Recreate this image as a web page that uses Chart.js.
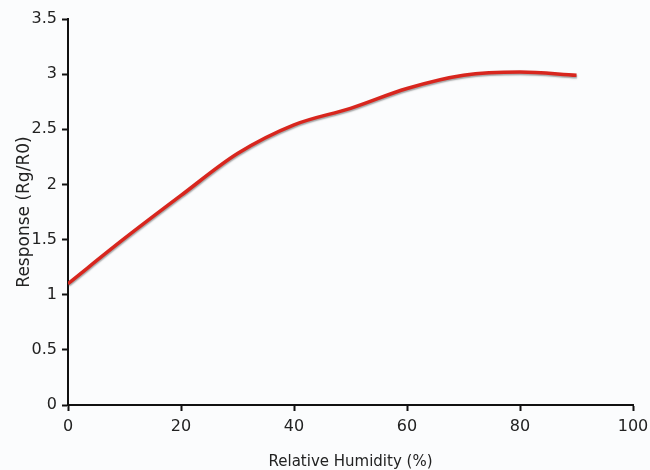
<!DOCTYPE html>
<html>
<head>
<meta charset="utf-8">
<script src="https://cdn.jsdelivr.net/npm/chart.js@4/dist/chart.umd.min.js"></script>
<style>
  html, body { margin: 0; padding: 0; background: #fbfcfd; }
  #wrap { width: 650px; height: 470px; }
</style>
</head>
<body>
<div id="wrap"><canvas id="humidityChart" width="650" height="470"></canvas></div>
<script>
// Sensor response vs relative humidity
const humidity = [0, 10, 20, 30, 40, 50, 60, 70, 80, 90];
const response = [1.10, 1.51, 1.90, 2.28, 2.54, 2.69, 2.87, 2.99, 3.02, 2.99];
const xTicks = [0, 20, 40, 60, 80, 100];
const yTicks = [0, 0.5, 1, 1.5, 2, 2.5, 3, 3.5];

const points = humidity.map((h, i) => ({ x: h, y: response[i] }));

// soft grey drop shadow under the line
const lineShadow = {
    id: 'lineShadow',
    beforeDatasetsDraw(chart) {
        const ctx = chart.ctx;
        ctx.save();
        ctx.shadowColor = 'rgba(90, 90, 90, 0.55)';
        ctx.shadowBlur = 1.5;
        ctx.shadowOffsetX = 0.5;
        ctx.shadowOffsetY = 1.5;
    },
    afterDatasetsDraw(chart) {
        chart.ctx.restore();
    }
};

const bgFill = {
    id: 'bgFill',
    beforeDraw(chart) {
        const ctx = chart.ctx;
        ctx.save();
        ctx.fillStyle = '#fbfcfd';
        ctx.fillRect(0, 0, chart.width, chart.height);
        ctx.restore();
    }
};

const tickFont = { family: 'DejaVu Sans', size: 16 };

new Chart(document.getElementById('humidityChart'), {
    type: 'line',
    data: {
        datasets: [{
            data: points,
            borderColor: '#d8261e',
            borderWidth: 3.5,
            pointRadius: 0,
            cubicInterpolationMode: 'monotone',
            fill: false
        }]
    },
    options: {
        responsive: false,
        animation: false,
        layout: { padding: { left: 14, right: 12, top: 19, bottom: 0 } },
        plugins: {
            legend: { display: false },
            tooltip: { enabled: false }
        },
        scales: {
            x: {
                type: 'linear',
                min: 0,
                max: 100,
                afterBuildTicks: axis => { axis.ticks = xTicks.map(v => ({ value: v })); },
                afterFit: s => { s.height = 65; s.paddingRight = 17; },
                grid: {
                    drawOnChartArea: false,
                    drawTicks: true,
                    tickLength: 6,
                    tickWidth: 2,
                    color: '#111'
                },
                border: { color: '#111', width: 2 },
                ticks: { color: '#222', font: tickFont, padding: 6, maxRotation: 0 },
                title: {
                    display: true,
                    text: 'Relative Humidity (%)',
                    color: '#222',
                    font: { family: 'DejaVu Sans', size: 15, lineHeight: 1 },
                    padding: { top: 8, bottom: 0 }
                }
            },
            y: {
                min: 0,
                max: 3.5,
                afterBuildTicks: axis => { axis.ticks = yTicks.map(v => ({ value: v })); },
                afterFit: s => { s.width = 54; },
                grid: {
                    drawOnChartArea: false,
                    drawTicks: true,
                    tickLength: 6,
                    tickWidth: 2,
                    color: '#111'
                },
                border: { color: '#111', width: 2 },
                ticks: {
                    color: '#222',
                    font: tickFont,
                    padding: 5,
                    callback: v => String(v)
                },
                title: {
                    display: true,
                    text: 'Response (Rg/R0)',
                    color: '#222',
                    font: { family: 'DejaVu Sans', size: 17 },
                    padding: { top: 0, bottom: 0 }
                }
            }
        }
    },
    plugins: [bgFill, lineShadow]
});
</script>
</body>
</html>
